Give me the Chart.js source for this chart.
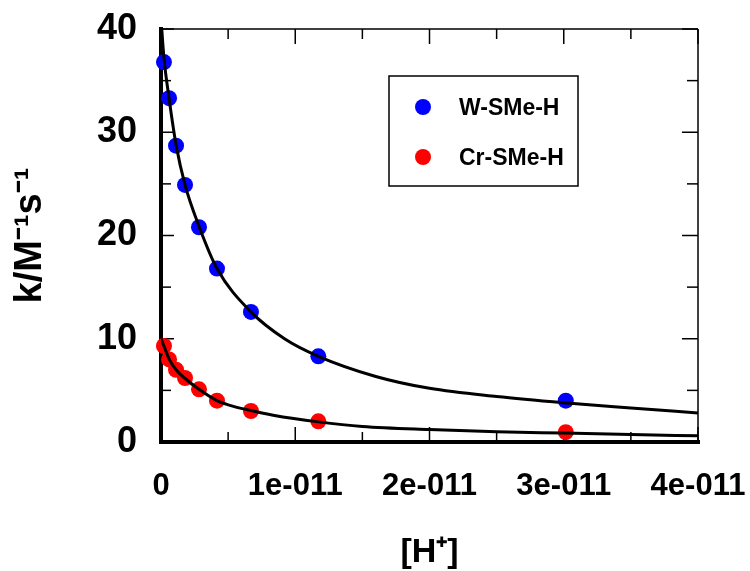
<!DOCTYPE html>
<html>
<head>
<meta charset="utf-8">
<script src="https://cdn.jsdelivr.net/npm/chart.js@4.4.1/dist/chart.umd.min.js"></script>
<style>
  html, body { margin: 0; padding: 0; background: #fff; }
</style>
</head>
<body>
<canvas id="rateChart" width="750" height="571"></canvas>
<script>
// measured rate constants vs [H+]
const hConc = [2.2e-13, 6.0e-13, 1.12e-12, 1.79e-12, 2.83e-12, 4.17e-12, 6.7e-12, 1.172e-11, 3.015e-11];
const kW    = [36.8, 33.3, 28.7, 24.9, 20.8, 16.8, 12.6, 8.3, 4.0];
const kCr   = [9.3, 8.0, 7.0, 6.2, 5.1, 4.0, 3.0, 2.0, 0.95];

// fitted curves
const fitWX = [0, 2.2e-13, 6.0e-13, 1.12e-12, 1.79e-12, 2.83e-12, 4.17e-12, 6.7e-12, 9.2e-12, 1.172e-11, 1.6e-11, 2.0e-11, 2.5e-11, 3.0e-11, 3.5e-11, 4.0e-11];
const fitW  = [41, 37.2, 33.3, 28.8, 24.9, 20.9, 16.8, 12.6, 10.0, 8.3, 6.35, 5.2, 4.4, 3.8, 3.3, 2.82];
const fitCrX = [0, 2.2e-13, 6.0e-13, 1.12e-12, 1.79e-12, 2.83e-12, 4.17e-12, 5.0e-12, 6.7e-12, 8.35e-12, 1.172e-11, 1.5e-11, 2.0e-11, 2.5e-11, 3.0e-11, 3.5e-11, 4.0e-11];
const fitCr  = [10.0, 9.3, 8.05, 7.0, 6.15, 5.1, 4.0, 3.6, 3.05, 2.6, 1.95, 1.5, 1.2, 1.0, 0.86, 0.72, 0.6];

// axis ticks
const xTicks = [0, 1e-11, 2e-11, 3e-11, 4e-11];
const xTickLabels = ['0', '1e-011', '2e-011', '3e-011', '4e-011'];
const xMinor = [5e-12, 1.5e-11, 2.5e-11, 3.5e-11];
const yTicks = [0, 10, 20, 30, 40];
const yMinor = [5, 15, 25, 35];

const toPts = (xs, ys) => xs.map((v, i) => ({ x: v, y: ys[i] }));
const FONT = '"Liberation Sans", Arial, sans-serif';

// box round the plot with inward ticks, thick left/bottom
const frameTicks = {
  id: 'frameTicks',
  beforeDatasetsDraw(chart) {
    const { ctx, chartArea: a, scales: { x, y } } = chart;
    const seg = (x1, y1, x2, y2) => { ctx.beginPath(); ctx.moveTo(x1, y1); ctx.lineTo(x2, y2); ctx.stroke(); };
    ctx.save();
    ctx.strokeStyle = '#000';
    ctx.lineWidth = 1.5;
    seg(a.left, a.top, a.right, a.top);
    seg(a.right, a.top, a.right, a.bottom);
    xTicks.forEach(v => {
      const p = x.getPixelForValue(v);
      seg(p, a.bottom, p, a.bottom - 15);
      seg(p, a.top, p, a.top + 15);
    });
    xMinor.forEach(v => {
      const p = x.getPixelForValue(v);
      seg(p, a.bottom, p, a.bottom - 10);
      seg(p, a.top, p, a.top + 10);
    });
    yTicks.forEach(v => {
      const p = y.getPixelForValue(v);
      seg(a.left, p, a.left + 13, p);
      seg(a.right, p, a.right - 16, p);
    });
    yMinor.forEach(v => {
      const p = y.getPixelForValue(v);
      seg(a.left, p, a.left + 10, p);
      seg(a.right, p, a.right - 11, p);
    });
    ctx.lineWidth = 4;
    ctx.lineCap = 'square';
    seg(a.left, a.top, a.left, a.bottom);
    seg(a.left, a.bottom, a.right, a.bottom);
    ctx.restore();
  }
};

// boxed legend inside the plot, markers only
const boxLegend = {
  id: 'boxLegend',
  afterDatasetsDraw(chart) {
    const { ctx } = chart;
    const items = chart.data.datasets.filter(d => d.showInLegend);
    ctx.save();
    ctx.strokeStyle = '#000';
    ctx.lineWidth = 1.5;
    ctx.strokeRect(389, 76, 189, 110);
    ctx.font = 'bold 23px ' + FONT;
    ctx.textBaseline = 'middle';
    items.forEach((d, i) => {
      const cy = 107 + i * 50;
      ctx.fillStyle = d.backgroundColor;
      ctx.beginPath();
      ctx.arc(423, cy, 8, 0, Math.PI * 2);
      ctx.fill();
      ctx.fillStyle = '#000';
      ctx.fillText(d.label, 459, cy + 2);
    });
    ctx.restore();
  }
};

new Chart(document.getElementById('rateChart'), {
  type: 'scatter',
  data: {
    datasets: [
      {
        label: 'W-SMe-H fit',
        type: 'line',
        data: toPts(fitWX, fitW),
        borderColor: '#000',
        borderWidth: 3,
        pointRadius: 0,
        fill: false,
        cubicInterpolationMode: 'monotone'
      },
      {
        label: 'Cr-SMe-H fit',
        type: 'line',
        data: toPts(fitCrX, fitCr),
        borderColor: '#000',
        borderWidth: 3,
        pointRadius: 0,
        fill: false,
        cubicInterpolationMode: 'monotone'
      },
      {
        label: 'W-SMe-H',
        showInLegend: true,
        data: toPts(hConc, kW),
        backgroundColor: '#0000ff',
        borderWidth: 0,
        pointRadius: 8,
        clip: false
      },
      {
        label: 'Cr-SMe-H',
        showInLegend: true,
        data: toPts(hConc, kCr),
        backgroundColor: '#ff0000',
        borderWidth: 0,
        pointRadius: 8,
        clip: false
      }
    ]
  },
  options: {
    responsive: false,
    animation: false,
    devicePixelRatio: 1,
    layout: { padding: { top: 29, right: 52, bottom: 0, left: 0 } },
    plugins: {
      legend: { display: false },
      tooltip: { enabled: false }
    },
    scales: {
      x: {
        type: 'linear',
        min: 0,
        max: 4e-11,
        afterBuildTicks: s => { s.ticks = xTicks.map(v => ({ value: v })); },
        afterFit: s => { s.height = 129; s.paddingLeft = 0; s.paddingRight = 0; },
        grid: { display: false, drawTicks: false },
        border: { display: false },
        ticks: {
          padding: 26,
          maxRotation: 0,
          autoSkip: false,
          color: '#000',
          font: { family: FONT, size: 31, weight: 'bold' },
          callback: (v, i) => xTickLabels[i]
        },
        title: {
          display: true,
          text: '[H⁺]',
          color: '#000',
          padding: 0,
          font: { family: FONT, size: 34, weight: 'bold', lineHeight: 1.1 }
        }
      },
      y: {
        min: 0,
        max: 40,
        afterBuildTicks: s => { s.ticks = yTicks.map(v => ({ value: v })); },
        afterFit: s => { s.width = 161; s.paddingTop = 0; s.paddingBottom = 0; },
        grid: { display: false, drawTicks: false },
        border: { display: false },
        ticks: {
          padding: 24,
          color: '#000',
          font: { family: FONT, size: 36, weight: 'bold' }
        },
        title: {
          display: true,
          text: 'k/M⁻¹s⁻¹',
          color: '#000',
          padding: 8,
          font: { family: FONT, size: 38, weight: 'bold' }
        }
      }
    }
  },
  plugins: [frameTicks, boxLegend]
});
</script>
</body>
</html>
